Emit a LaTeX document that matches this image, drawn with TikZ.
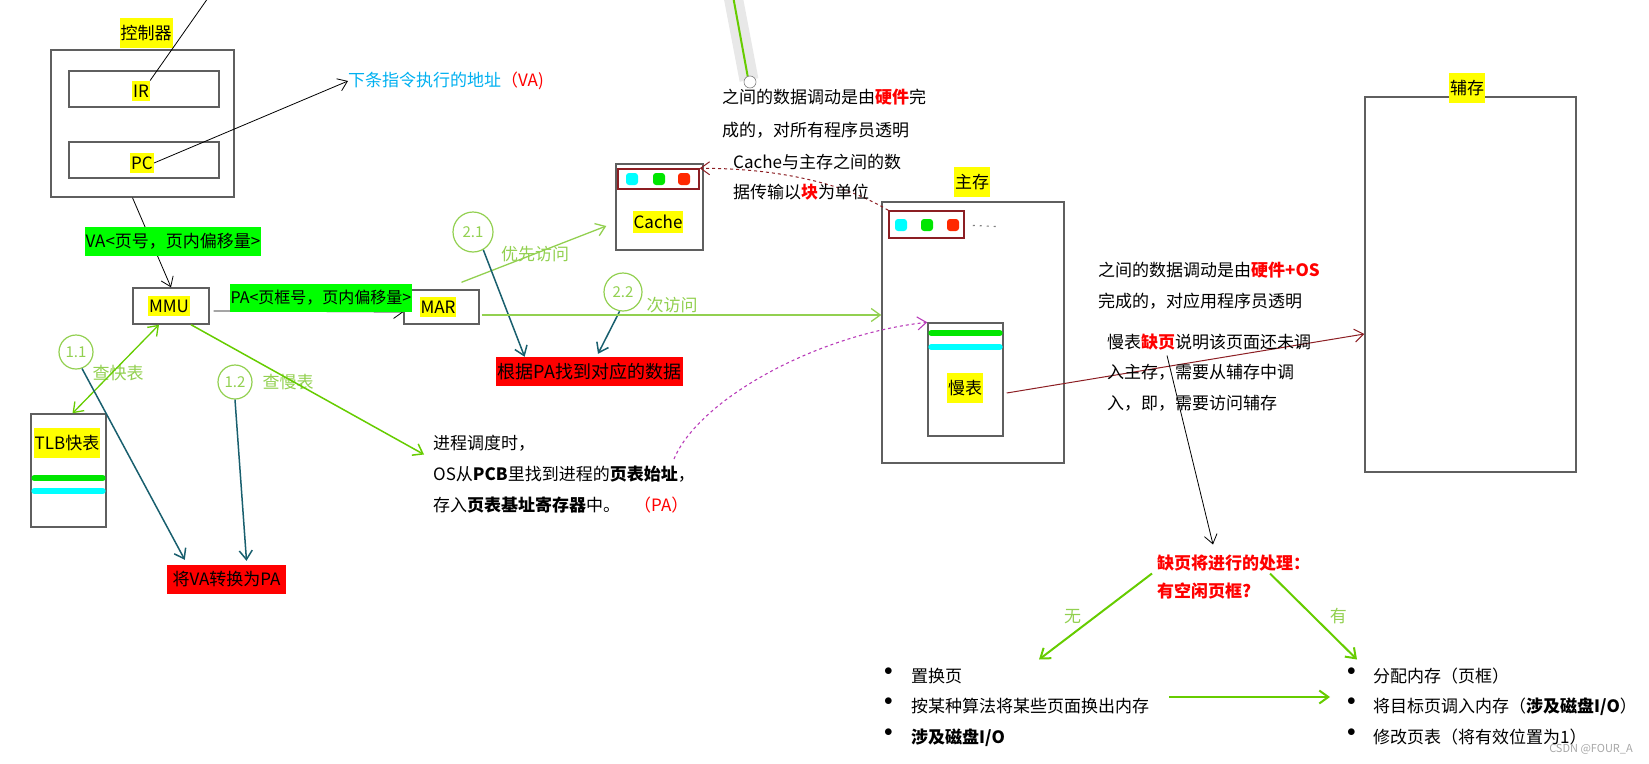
\documentclass[tikz,border=0pt]{standalone}
\usepackage{fontspec}
\setmainfont{Noto Sans CJK SC}
\usetikzlibrary{arrows.meta,calc,positioning}
\definecolor{boxgray}{RGB}{95,95,95}
\definecolor{tagyellow}{RGB}{255,255,0}
\definecolor{taggreen}{RGB}{0,255,0}
\definecolor{tagred}{RGB}{255,0,0}
\definecolor{sky}{RGB}{0,176,240}
\definecolor{lgreen}{RGB}{146,208,80}
\definecolor{agreen}{RGB}{102,204,0}
\definecolor{teal2}{RGB}{25,95,110}
\definecolor{dred}{RGB}{140,30,35}
\definecolor{pink2}{RGB}{185,60,185}
\definecolor{barcyan}{RGB}{0,255,255}
\definecolor{bargreen}{RGB}{0,230,0}
\definecolor{dotred}{RGB}{255,40,0}
\newcommand{\listdot}{\raisebox{1.5pt}{$\bullet$}}
\tikzset{>={Straight Barb[length=9pt,width=13pt]},
  box/.style={draw=boxgray,line width=1.4pt,inner sep=0pt},
  tag/.style={fill=tagyellow,inner xsep=1pt,inner ysep=4pt},
  cjktag/.style={tag,minimum height=30pt},
  gtag/.style={fill=taggreen,inner xsep=1pt,minimum height=29pt},
  rtag/.style={fill=tagred,inner xsep=2pt,minimum height=29pt},
  stepmark/.style={circle,draw=lgreen,line width=1.2pt,text=lgreen,inner sep=0pt,font=\fontsize{15}{17}\selectfont},
  note/.style={align=left,anchor=north west,inner sep=0pt},
  hint/.style={text=lgreen},
  datadot/.style={rounded corners=3pt,minimum size=12pt,inner sep=0pt},
  blk/.style={draw=dred,line width=1.5pt,inner sep=0pt},
  tablebar/.style={line width=6pt,line cap=round},
  lookup/.style={->,teal2,line width=1.5pt},
  flow/.style={->,agreen,line width=1.5pt},
}
\begin{document}
\begin{tikzpicture}[x=1pt,y=-1pt,font=\fontsize{17}{31}\selectfont]
\useasboundingbox (0,0) rectangle (1649,763);
% pen cursor at the top
\draw[line width=19pt,gray!18] (733,-4) -- (749,80);
\draw[line width=2pt,agreen] (733,-4) -- (748,78);
\draw[gray,fill=white,line width=0.6pt] (750,82) circle[radius=6pt];

% controller
\node[box,minimum width=183,minimum height=147] (ctrl) at (142.5,123.5) {};
\node[cjktag] (ctrllab) at (146,33) {控制器};
\node[box,minimum width=150,minimum height=36] (ir) at (144,89) {};
\node[tag] (irlab) at (141,91) {IR};
\node[box,minimum width=150,minimum height=36] (pc) at (144,160) {};
\node[tag] (pclab) at (142,163) {PC};
\node[anchor=west,inner sep=0pt] (nextva) at (348,81) {{\color{sky}下条指令执行的地址}{\color{red}（VA)}};
\coordinate (irtop) at (208,-2);
\draw[line width=0.8pt] (irlab.north east) -- (irtop);
\draw[->,line width=0.8pt] (pclab.east) -- (nextva.west);

% MMU and MAR
\node[box,minimum width=76,minimum height=36] (mmu) at (171,306) {};
\node[tag] (mmulab) at (169,306) {MMU};
\draw[->,line width=0.8pt] ($(ctrl.south)+(-10,0)$) -- (mmu.north);
\node[gtag] (va) at (173,241) {VA<页号，页内偏移量>};
\node[box,minimum width=75,minimum height=34] (mar) at (441.5,307) {};
\node[tag] (marlab) at (438,307) {MAR};
\draw[->,line width=0.8pt] ($(mmu.east)+(4,5)$) -- ($(mar.west)+(0,5)$);
\node[gtag,minimum height=28,font=\fontsize{16}{20}\selectfont] (pa) at (321,298) {PA<页框号，页内偏移量>};

% TLB
\node[box,minimum width=75,minimum height=113] (tlb) at (68.5,470.5) {};
\node[cjktag] (tlblab) at (67,443) {TLB快表};
\draw[tablebar,bargreen] ($(tlb.west)+(4,7.5)$) -- ($(tlb.east)+(-4,7.5)$);
\draw[tablebar,barcyan] ($(tlb.west)+(4,20.5)$) -- ($(tlb.east)+(-4,20.5)$);

% step 1
\node[stepmark,minimum size=34] (s11) at (76,352) {1.1};
\node[hint] (quick) at (118,373) {查快表};
\node[stepmark,minimum size=34] (s12) at (235,382) {1.2};
\node[hint] (slowq) at (288,382) {查慢表};
\node[rtag,minimum width=119] (vatopa) at (226.5,579.5) {将VA转换为PA};
\draw[<->,agreen,line width=1.3pt] ($(mmu.south)+(-12,0)$) -- ($(tlb.north)+(4,0)$);
\draw[lookup] (s11.290) -- ($(vatopa.north west)+(18,-5)$);
\draw[lookup] (s12.south) -- ($(vatopa.north)+(20,-4)$);

\node[note] (pcbnote) at (433,434.5) {进程调度时，\\OS从\textbf{PCB}里找到进程的\textbf{页表始址}，\\存入\textbf{页表基址寄存器}中。\hspace{14pt}{\color{red}（PA）}};
\draw[flow] ($(mmu.south)+(20,0)$) -- ($(pcbnote.north west)+(-9,20)$);

% cache
\node[box,minimum width=87,minimum height=86] (cache) at (659.5,207) {};
\node[blk,minimum width=81,minimum height=20] (cacheblk) at (658.5,179) {};
\node[datadot,fill=barcyan] (cdot1) at (632,179) {};
\node[datadot,fill=bargreen] (cdot2) at (659,179) {};
\node[datadot,fill=dotred] (cdot3) at (684,179) {};
\node[tag] (cachelab) at (658,222) {Cache};

% step 2
\node[stepmark,minimum size=40] (s21) at (473,232) {2.1};
\node[hint] (first) at (535,254) {优先访问};
\node[stepmark,minimum size=38] (s22) at (623,292) {2.2};
\node[hint] (second) at (672,305) {次访问};
\node[rtag,minimum width=183,font=\fontsize{18}{20}\selectfont] (padata) at (589.5,371.5) {根据PA找到对应的数据};
\draw[->,lgreen,line width=1.3pt] ($(mar.north)+(20,-7)$) -- ($(cache.west)+(-9,19)$);
\draw[lookup] (s21.300) -- ($(padata.north west)+(29,0)$);
\draw[lookup] (s22.260) -- ($(padata.north)+(8.5,-3)$);

% main memory
\node[box,minimum width=182,minimum height=261] (mem) at (973,332.5) {};
\node[cjktag] (memlab) at (972,182) {主存};
\node[blk,minimum width=75,minimum height=27] (memblk) at (926.5,224.5) {};
\node[datadot,fill=barcyan] (mdot1) at (901,225) {};
\node[datadot,fill=bargreen] (mdot2) at (927,225) {};
\node[datadot,fill=dotred] (mdot3) at (953,225) {};
\draw[gray,line width=1.2pt,dash pattern=on 2pt off 5pt] ($(memblk.east)+(8,1)$) -- ++(24,1);
\node[box,minimum width=75,minimum height=113] (slow) at (965.5,379.5) {};
\draw[tablebar,bargreen] ($(slow.west)+(4,-46.5)$) -- ($(slow.east)+(-4,-46.5)$);
\draw[tablebar,barcyan] ($(slow.west)+(4,-32.5)$) -- ($(slow.east)+(-4,-32.5)$);
\node[cjktag] (slowlab) at (965,388) {慢表};
\draw[->,lgreen,line width=1.3pt] ($(mar.east)+(2,8)$) -- ($(mem.west)+(0,-17.5)$);
\draw[->,dred,dashed,line width=1pt] (memblk.north west) .. controls +(-50,-30) and +(70,0) .. (cacheblk.north east);
\coordinate (pastart) at (674,459);
\draw[->,pink2,dashed,line width=1.1pt] (pastart) .. controls +(25,-60) and +(-110,12) .. (slow.north west);

% secondary memory
\node[box,minimum width=211,minimum height=375] (aux) at (1470.5,284.5) {};
\node[cjktag] (auxlab) at (1467,88) {辅存};
\draw[->,dred,line width=1pt] ($(slow.east)+(3,13.5)$) -- ($(aux.west)+(0,49.5)$);

% notes
\node[note,font=\fontsize{17}{33}\selectfont] (hwnote) at (722,88.5) {之间的数据调动是由{\bfseries\color{red}硬件}完\\成的，对所有程序员透明};
\node[note,font=\fontsize{17}{30}\selectfont] (cachenote) at (733,153.5) {Cache与主存之间的数\\据传输以{\bfseries\color{red}块}为单位};
\node[note] (hwosnote) at (1098,261.5) {之间的数据调动是由{\bfseries\color{red}硬件+OS}\\完成的，对应用程序员透明};
\node[note,font=\fontsize{17}{30.5}\selectfont] (slownote) at (1107,333.5) {慢表{\bfseries\color{red}缺页}说明该页面还未调\\入主存，需要从辅存中调\\入，即，需要访问辅存};

% page fault handling
\node[note,font=\bfseries\fontsize{17}{28}\selectfont,text=red] (fault) at (1157,554.5) {缺页将进行的处理：\\有空闲页框?};
\draw[->,line width=0.8pt] ($(slownote.north west)+(60,22)$) -- ($(fault.north west)+(56,-10)$);
\node[note,font=\fontsize{17}{30.5}\selectfont] (leftbul) at (884,667.5) {\listdot\\\listdot\\\listdot};
\node[note,font=\fontsize{17}{30.5}\selectfont] (leftlist) at (911,667.5) {置换页\\按某种算法将某些页面换出内存\\\textbf{涉及磁盘I/O}};
\node[note,font=\fontsize{17}{30.5}\selectfont] (rightbul) at (1347,667.5) {\listdot\\\listdot\\\listdot};
\node[note,font=\fontsize{17}{30.5}\selectfont] (rightlist) at (1373,667.5) {分配内存（页框）\\将目标页调入内存（\textbf{涉及磁盘I/O}）\\修改页表（将有效位置为1）};
\draw[flow,line width=2pt] ($(fault.north west)+(-5,19)$) -- node[midway,left=10pt,text=lgreen] (nolab) {无} ($(leftlist.north west)+(128,-8)$);
\draw[flow,line width=2pt] ($(fault.north west)+(113,19)$) -- node[midway,right=12pt,text=lgreen] (yeslab) {有} ($(rightlist.north west)+(-16,-8)$);
\draw[flow,line width=2pt] ($(leftlist.north east)+(20,29.5)$) -- ($(rightbul.north west)+(-17,29.5)$);

\node[text=gray!70,font=\fontsize{11}{13}\selectfont] (mark) at (1591,749) {CSDN @FOUR\_A};
\end{tikzpicture}
\end{document}
